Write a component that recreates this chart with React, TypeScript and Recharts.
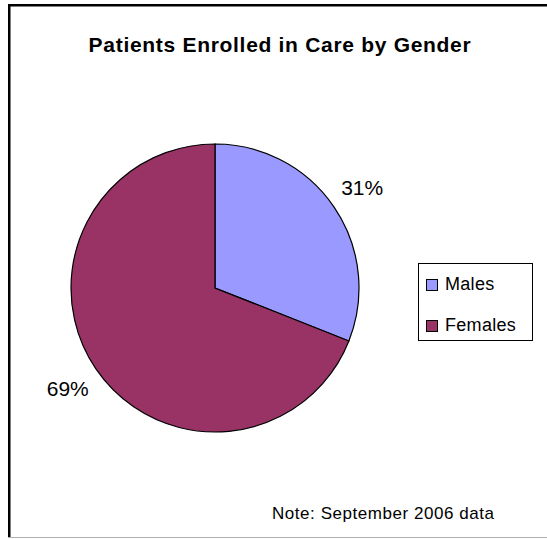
import { PieChart, Pie, Cell, Legend } from 'recharts';

const GENDERS = ['Males', 'Females'];
const SHARES = [31, 69];
const COLORS = ['#9999ff', '#993366'];

const TITLE = 'Patients Enrolled in Care by Gender';
const NOTE = 'Note: September 2006 data';

const data = GENDERS.map((name, i) => ({ name, value: SHARES[i] }));
const RADIAN = Math.PI / 180;

const FONT = 'Liberation Sans, Arial, sans-serif';

function renderLabel(props: any) {
  const { cx, cy, midAngle, outerRadius, value } = props;
  const r = outerRadius + 34;
  const x = cx + r * Math.cos(-midAngle * RADIAN);
  const y = cy + r * Math.sin(-midAngle * RADIAN);
  return (
    <text x={x} y={y} textAnchor="middle" dominantBaseline="central" fontFamily={FONT} fontSize={21} fill="#000">
      {value}%
    </text>
  );
}

function LegendBox() {
  return (
    <div
      style={{
        width: 115,
        height: 78,
        boxSizing: 'border-box',
        border: '1.5px solid #000',
        fontFamily: FONT,
        fontSize: 18,
        padding: '10px 0 0 7px',
        background: '#fff',
      }}
    >
      {GENDERS.map((g, i) => (
        <div key={g} style={{ display: 'flex', alignItems: 'center', height: 21, marginBottom: i === 0 ? 20 : 0 }}>
          <span
            style={{
              width: 12,
              height: 12,
              boxSizing: 'border-box',
              border: '1.5px solid #000',
              background: COLORS[i],
              marginRight: 7,
            }}
          />
          <span style={{ letterSpacing: 0.3 }}>{g}</span>
        </div>
      ))}
    </div>
  );
}

export default function App() {
  return (
    <div style={{ position: 'absolute', left: 0, top: 0, width: 547, height: 539, background: '#fff' }}>
      <div style={{ position: 'absolute', left: 10, top: 6 }}>
        <PieChart width={537} height={532} margin={{ top: 0, right: 0, bottom: 0, left: 0 }}>
          <Pie
            data={data}
            dataKey="value"
            nameKey="name"
            cx={205}
            cy={282}
            outerRadius={144}
            startAngle={90}
            endAngle={-270}
            stroke="#000"
            strokeWidth={1.2}
            label={renderLabel}
            labelLine={false}
            isAnimationActive={false}
          >
            {data.map((_, i) => (
              <Cell key={i} fill={COLORS[i]} />
            ))}
          </Pie>
          <Legend content={() => <LegendBox />} wrapperStyle={{ left: 408, top: 257, width: 115 }} />
        </PieChart>
      </div>
      <svg width={547} height={539} style={{ position: 'absolute', left: 0, top: 0, pointerEvents: 'none' }}>
        <rect x={8} y={4} width={539} height={2.5} fill="#000" />
        <rect x={8} y={4} width={2.5} height={534} fill="#000" />
        <rect x={8} y={537} width={539} height={1} fill="#b0b0b0" />
        <text
          x={280}
          y={52}
          textAnchor="middle"
          fontFamily={FONT}
          fontSize={21}
          fontWeight="bold"
          letterSpacing={0.7}
          fill="#000"
        >
          {TITLE}
        </text>
        <text x={272} y={519} fontFamily={FONT} fontSize={17} letterSpacing={0.55} fill="#000">
          {NOTE}
        </text>
      </svg>
    </div>
  );
}
